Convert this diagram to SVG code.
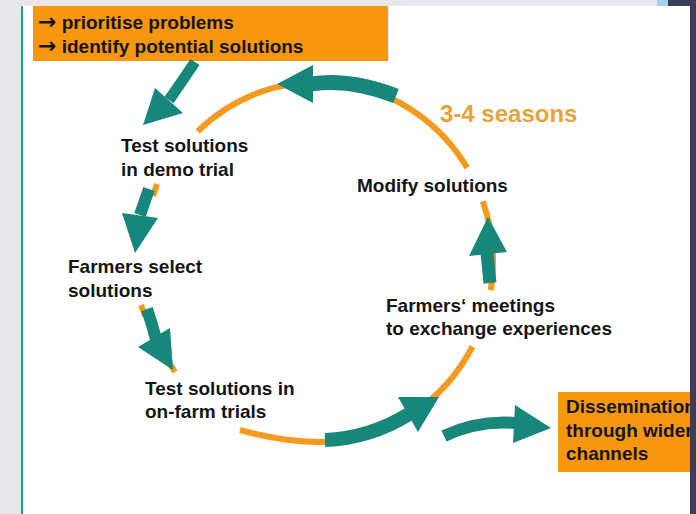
<svg xmlns="http://www.w3.org/2000/svg" width="696" height="514" viewBox="0 0 696 514">
<style>
.lbl{font-family:"Liberation Sans",Arial,sans-serif;font-weight:bold;font-size:19px;fill:#151515}
.ar{font-family:"DejaVu Sans",sans-serif;font-weight:bold;font-size:22px;fill:#151515}
.arc{fill:none;stroke:#f39a1f;stroke-width:6}
.tb{fill:none;stroke:#16877a;stroke-linecap:butt}
.th{fill:#16877a}
.box{fill:#f7970f}
</style>
<rect x="0" y="0" width="696" height="514" fill="#e8e8ec"/>
<rect x="23" y="6" width="667" height="508" fill="#ffffff"/>
<rect x="21" y="6" width="2" height="508" fill="#1aa38c"/>
<rect x="657" y="0" width="11" height="6" fill="#a3d2ea"/>
<rect x="668" y="0" width="28" height="6" fill="#3a3e56"/>
<g id="box-top">
<rect class="box" x="33" y="6" width="355" height="55"/>
<text class="lbl" x="38" y="29"><tspan class="ar">→</tspan> prioritise problems</text>
<text class="lbl" x="38" y="53"><tspan class="ar">→</tspan> identify potential solutions</text>
</g>
<g id="connectors">
<path class="arc" d="M197.6,131.4 A175,180 0 0 1 467.1,167.7"/>
<path class="arc" d="M482.8,201.3 A175,180 0 0 1 490.8,290.2"/>
<path class="arc" d="M472.5,346.5 A175,180 0 0 1 327,441.8 C295,443 265,437 240,430"/>
<path class="arc" d="M157,184 L153,196"/>
<path class="arc" d="M141,305 L145,316 M170,364 L175,372"/>
<path class="tb" stroke-width="11" d="M195,62 Q183,80 169,100"/>
<polygon class="th" points="155,88 183,113 143,125"/>
<path class="tb" stroke-width="15" d="M396,96 Q350,78 311,84"/>
<polygon class="th" points="313,65 313,103 277,84"/>
<path class="tb" stroke-width="12" d="M149,189 L140,215"/>
<polygon class="th" points="122,213 158,218 135,253"/>
<path class="tb" stroke-width="12" d="M147,309 Q152,324 156,339"/>
<polygon class="th" points="138,347 170,328 173,370"/>
<path class="tb" stroke-width="14" d="M325,440 A175,180 0 0 0 409,414"/>
<polygon class="th" points="398,397 418,432 439,397"/>
<path class="tb" stroke-width="13" d="M490,283 L487,253"/>
<polygon class="th" points="469,256 507,252 488,217"/>
<path class="tb" stroke-width="12" d="M444,436 Q478,420 515,423"/>
<polygon class="th" points="515,405 513,443 551,428"/>
</g>
<g id="test-demo">
<text class="lbl" x="121" y="152">Test solutions</text>
<text class="lbl" x="121" y="176">in demo trial</text>
</g>
<g id="farmers-select">
<text class="lbl" x="68" y="273">Farmers select</text>
<text class="lbl" x="68" y="297">solutions</text>
</g>
<g id="test-onfarm">
<text class="lbl" x="145" y="395">Test solutions in</text>
<text class="lbl" x="145" y="418">on-farm trials</text>
</g>
<g id="farmers-meetings">
<text class="lbl" x="386" y="312">Farmers‘ meetings</text>
<text class="lbl" x="386" y="335">to exchange experiences</text>
</g>
<g id="modify">
<text class="lbl" x="357" y="192">Modify solutions</text>
</g>
<g id="seasons">
<text x="440" y="122" font-family="Liberation Sans, Arial, sans-serif" font-weight="bold" font-size="24" fill="#e9a23b">3-4 seasons</text>
</g>
<g id="dissemination">
<rect class="box" x="558" y="392" width="140" height="80"/>
<text class="lbl" x="566" y="413">Dissemination</text>
<text class="lbl" x="566" y="437">through wider</text>
<text class="lbl" x="566" y="460">channels</text>
</g>
<rect x="690" y="6" width="6" height="508" fill="#3a3e56"/>
</svg>
